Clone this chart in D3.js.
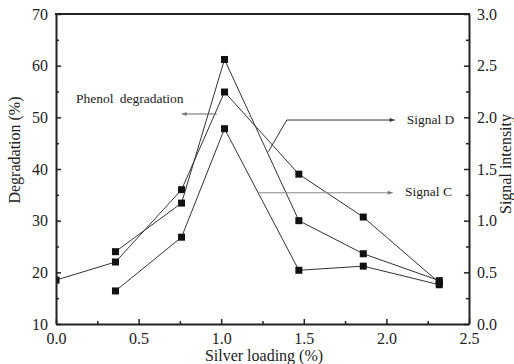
<!DOCTYPE html>
<html>
<head>
<meta charset="utf-8">
<script src="https://cdn.jsdelivr.net/npm/d3@7"></script>
<style>
  html, body { margin: 0; padding: 0; background: #fff; }
  svg { display: block; }
  svg text { font-family: "Liberation Serif", "DejaVu Serif", serif !important; fill: #222; }
</style>
</head>
<body>
<svg id="chart" width="514" height="364" font-family="Liberation Serif, serif"></svg>
<script>
// Silver loading (%) for each sample
const loading = [0.00, 0.36, 0.76, 1.02, 1.47, 1.86, 2.32];
// Phenol degradation (%), left axis
const phenol = [18.5, 22.0, 36.0, 54.9, 39.0, 30.7, 18.0];
// EPR signal intensities, right axis (no reading at 0 % loading)
const signalD = [null, 0.70, 1.17, 2.56, 1.00, 0.68, 0.42];
const signalC = [null, 0.32, 0.84, 1.89, 0.52, 0.56, 0.38];
// Tick labels
const xTicks = [0.0, 0.5, 1.0, 1.5, 2.0, 2.5];
const yLeftTicks = [10, 20, 30, 40, 50, 60, 70];
const yRightTicks = [0.0, 0.5, 1.0, 1.5, 2.0, 2.5, 3.0];

const SERIF = "Liberation Serif, DejaVu Serif, serif";
const svg = d3.select("#chart");
const L = 56, R = 469, T = 14, B = 324;

const x = d3.scaleLinear().domain([0, 2.5]).range([L, R]);
const yL = d3.scaleLinear().domain([10, 70]).range([B, T]);
const yR = d3.scaleLinear().domain([0, 3]).range([B, T]);

const defs = svg.append("defs");
defs.append("clipPath").attr("id", "plot")
  .append("rect").attr("x", L).attr("y", T).attr("width", R - L).attr("height", B - T);

function marker(id, color) {
  defs.append("marker").attr("id", id)
    .attr("viewBox", "0 0 10 10").attr("refX", 10).attr("refY", 5)
    .attr("markerWidth", 6).attr("markerHeight", 5).attr("orient", "auto")
    .attr("markerUnits", "userSpaceOnUse")
    .append("path").attr("d", "M0,1 L10,5 L0,9 Z").attr("fill", color);
}
marker("arrDark", "#333");
marker("arrGray", "#777");

// Data series
const series = [
  { values: phenol, y: yL },
  { values: signalD, y: yR },
  { values: signalC, y: yR }
];

const plot = svg.append("g").attr("clip-path", "url(#plot)");
series.forEach(s => {
  const pts = loading.map((lx, i) => [lx, s.values[i]]).filter(d => d[1] != null);
  plot.append("path")
    .attr("d", d3.line().x(d => x(d[0])).y(d => s.y(d[1]))(pts))
    .attr("fill", "none").attr("stroke", "#333").attr("stroke-width", 1);
  plot.selectAll(null).data(pts).enter().append("rect")
    .attr("x", d => x(d[0]) - 3.5).attr("y", d => s.y(d[1]) - 3.5)
    .attr("width", 7).attr("height", 7).attr("fill", "#111");
});

// Axes with inward ticks
function styleAxis(g) {
  g.attr("font-family", SERIF);
  g.select(".domain").attr("stroke", "#222").attr("stroke-width", 2);
  g.selectAll(".tick line").attr("stroke", "#222").attr("stroke-width", 1.5);
  g.selectAll("text").attr("font-size", 16).attr("fill", "#222").attr("font-family", SERIF);
}
function minor(g) {
  g.select(".domain").remove();
  g.selectAll("line").attr("stroke", "#222").attr("stroke-width", 1.5);
}

const xAxis = svg.append("g").attr("transform", `translate(0,${B})`)
  .call(d3.axisBottom(x).tickValues(xTicks).tickFormat(d3.format(".1f"))
    .tickSizeInner(-5).tickSizeOuter(0).tickPadding(9));
styleAxis(xAxis);
svg.append("g").attr("transform", `translate(0,${B})`)
  .call(d3.axisBottom(x).tickValues(d3.range(0.25, 2.5, 0.5)).tickFormat("")
    .tickSizeInner(-3).tickSizeOuter(0))
  .call(minor);

const yAxisL = svg.append("g").attr("transform", `translate(${L},0)`)
  .call(d3.axisLeft(yL).tickValues(yLeftTicks).tickFormat(d3.format("d"))
    .tickSizeInner(-5).tickSizeOuter(0).tickPadding(8));
styleAxis(yAxisL);
svg.append("g").attr("transform", `translate(${L},0)`)
  .call(d3.axisLeft(yL).tickValues(d3.range(15, 70, 10)).tickFormat("")
    .tickSizeInner(-3).tickSizeOuter(0))
  .call(minor);

const yAxisR = svg.append("g").attr("transform", `translate(${R},0)`)
  .call(d3.axisRight(yR).tickValues(yRightTicks).tickFormat(d3.format(".1f"))
    .tickSizeInner(-5).tickSizeOuter(0).tickPadding(8));
styleAxis(yAxisR);
svg.append("g").attr("transform", `translate(${R},0)`)
  .call(d3.axisRight(yR).tickValues(d3.range(0.25, 3, 0.5)).tickFormat("")
    .tickSizeInner(-3).tickSizeOuter(0))
  .call(minor);

// Top frame line
svg.append("line").attr("x1", L - 1).attr("x2", R + 1).attr("y1", T).attr("y2", T)
  .attr("stroke", "#222").attr("stroke-width", 2);

// Axis titles
svg.append("text").attr("transform", `translate(20,150) rotate(-90)`)
  .attr("text-anchor", "middle").attr("font-family", SERIF).attr("font-size", 16)
  .text("Degradation (%)");
svg.append("text").attr("transform", `translate(511,164) rotate(-90)`)
  .attr("text-anchor", "middle").attr("font-family", SERIF).attr("font-size", 16)
  .text("Signal intensity");
svg.append("text").attr("x", 264).attr("y", 361)
  .attr("text-anchor", "middle").attr("font-family", SERIF).attr("font-size", 16)
  .text("Silver loading (%)");

// Series call-outs
const ann = svg.append("g").attr("font-family", SERIF);
ann.append("text").attr("x", x(0.121)).attr("y", yL(52.8))
  .attr("font-size", 13.5).attr("word-spacing", 3).text("Phenol degradation");
ann.append("line")
  .attr("x1", x(0.973)).attr("y1", yL(50.65)).attr("x2", x(0.761)).attr("y2", yL(50.65))
  .attr("stroke", "#666").attr("stroke-width", 1).attr("marker-end", "url(#arrGray)");

ann.append("polyline")
  .attr("points", [[x(1.285), yR(1.667)], [x(1.397), yR(1.974)], [x(2.050), yR(1.974)]].map(p => p.join(",")).join(" "))
  .attr("fill", "none").attr("stroke", "#333").attr("stroke-width", 1).attr("marker-end", "url(#arrDark)");
ann.append("text").attr("x", x(2.123)).attr("y", yR(1.935))
  .attr("font-size", 13.5).text("Signal D");

ann.append("line")
  .attr("x1", x(1.229)).attr("y1", yR(1.27)).attr("x2", x(2.038)).attr("y2", yR(1.27))
  .attr("stroke", "#888").attr("stroke-width", 1.2).attr("marker-end", "url(#arrGray)");
ann.append("text").attr("x", x(2.113)).attr("y", yR(1.234))
  .attr("font-size", 13.5).text("Signal C");
</script>
</body>
</html>
